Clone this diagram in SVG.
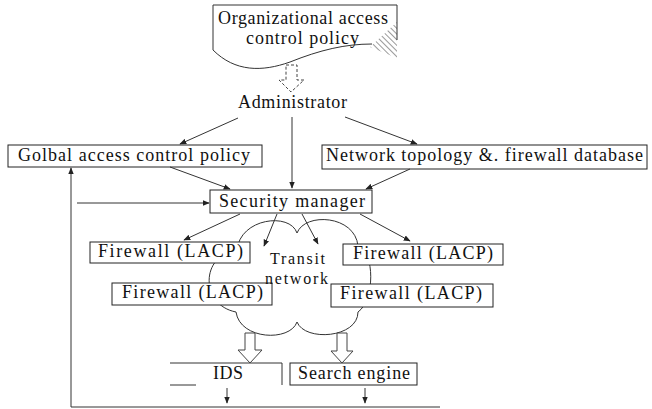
<svg xmlns="http://www.w3.org/2000/svg" width="652" height="409" viewBox="0 0 652 409">
<defs>
<marker id="ah" viewBox="0 0 10 10" refX="9" refY="5" markerWidth="7" markerHeight="7" orient="auto" markerUnits="userSpaceOnUse">
<path d="M0,1 L10,5 L0,9 Z" fill="#222"/>
</marker>
<pattern id="hatch" patternUnits="userSpaceOnUse" width="4" height="4" patternTransform="rotate(-45)">
<line x1="0" y1="0" x2="0" y2="4" stroke="#333" stroke-width="1"/>
</pattern>
</defs>
<style>
.box{fill:#fff;stroke:#222;stroke-width:1}
.ln{fill:none;stroke:#333;stroke-width:1}
.con{fill:none;stroke:#333;stroke-width:1;marker-end:url(#ah)}
.hol{fill:#fff;stroke:#444;stroke-width:1}
</style>
<rect width="652" height="409" fill="#fff"/>
<g font-family="'Liberation Serif', 'DejaVu Serif', serif" font-size="18" fill="#111">

<g id="org-policy">
<path class="ln" d="M213,50 L213,5 L397,5 L397,40"/>
<path class="ln" d="M213,50 C235,72 262,72 290,62 C320,50 345,44 372,44"/>
<path d="M370,47 L397,22 L397,58 Z" fill="url(#hatch)"/>
<text x="218" y="24" textLength="170" lengthAdjust="spacing">Organizational access</text>
<text x="246" y="44" textLength="113" lengthAdjust="spacing">control policy</text>
</g>

<g id="administrator">
<text x="238" y="108" textLength="109" lengthAdjust="spacing">Administrator</text>
</g>

<g id="global-policy">
<rect class="box" x="8" y="145" width="254" height="22"/>
<text x="18" y="161" textLength="232" lengthAdjust="spacing">Golbal access control policy</text>
</g>

<g id="network-topology">
<rect class="box" x="322" y="145" width="325" height="24"/>
<text x="326" y="161" textLength="317" lengthAdjust="spacing">Network topology &amp;. firewall database</text>
</g>

<g id="security-manager">
<rect class="box" x="210" y="190" width="162" height="23"/>
<text x="219" y="207" textLength="146" lengthAdjust="spacing">Security manager</text>
</g>

<g id="transit-network">
<path class="ln" d="M237,250 C240,218 290,212 297,233 C305,212 355,215 358,246 C375,252 375,300 358,312 C358,338 305,342 297,322 C290,342 240,340 236,312 C200,305 200,255 237,250 Z" fill="#fff"/>
</g>

<g id="firewall-1">
<rect class="box" x="90" y="242" width="160" height="21"/>
<text x="98" y="257" textLength="145" lengthAdjust="spacing">Firewall (LACP)</text>
</g>
<g id="firewall-2">
<rect class="box" x="112" y="283" width="160" height="22"/>
<text x="122" y="298" textLength="141" lengthAdjust="spacing">Firewall (LACP)</text>
</g>
<g id="firewall-3">
<rect class="box" x="343" y="244" width="160" height="21"/>
<text x="353" y="259" textLength="140" lengthAdjust="spacing">Firewall (LACP)</text>
</g>
<g id="firewall-4">
<rect class="box" x="331" y="284" width="162" height="23"/>
<text x="340" y="299" textLength="142" lengthAdjust="spacing">Firewall (LACP)</text>
</g>

<g id="transit-label" font-size="16">
<text x="270" y="264" textLength="55" lengthAdjust="spacing">Transit</text>
<text x="265" y="284" textLength="63" lengthAdjust="spacing">network</text>
</g>

<g id="ids">
<path class="ln" d="M170,363 L282,363 L282,385 M170,385 L196,385"/>
<text x="213" y="379" textLength="30" lengthAdjust="spacing">IDS</text>
</g>
<g id="search-engine">
<rect class="box" x="290" y="363" width="127" height="22"/>
<text x="298" y="379" textLength="112" lengthAdjust="spacing">Search engine</text>
</g>
</g>

<g id="connectors">
<path class="hol" stroke-dasharray="3,2" d="M286,65 L297,65 L297,80 L304,80 L291,92 L279,80 L286,80 Z"/>
<line class="con" x1="238" y1="118" x2="180" y2="144"/>
<line class="con" x1="292" y1="117" x2="292" y2="188"/>
<line class="con" x1="345" y1="117" x2="417" y2="144"/>
<line class="con" x1="170" y1="167" x2="230" y2="189"/>
<line class="con" x1="410" y1="169" x2="366" y2="189"/>
<line class="con" x1="240" y1="214" x2="184" y2="240"/>
<line class="con" x1="277" y1="214" x2="264" y2="246"/>
<line class="con" x1="302" y1="214" x2="318" y2="244"/>
<line class="con" x1="360" y1="214" x2="410" y2="241"/>
<path class="hol" d="M245,333 L255,333 L255,350 L262,350 L250,363 L238,350 L245,350 Z"/>
<path class="hol" stroke="#888" d="M337,333 L347,333 L347,351 L353,351 L342,363 L331,351 L337,351 Z"/>
<line class="con" x1="227" y1="388" x2="227" y2="403"/>
<line class="con" x1="365" y1="388" x2="365" y2="403"/>
<path class="ln" d="M440,407 L71,407 L71,180"/>
<line class="con" x1="71" y1="180" x2="71" y2="168"/>
<line class="con" x1="77" y1="203" x2="209" y2="203"/>
</g>
</svg>
